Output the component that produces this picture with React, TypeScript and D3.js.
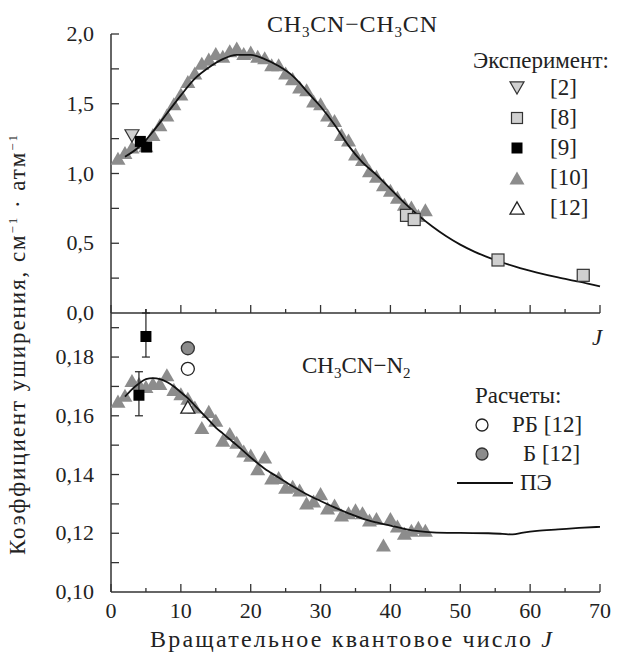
import React from "react";
import * as d3 from "d3";

// ---- data: CH3CN–CH3CN (top panel) ----
const topRef10J = [1,2,3,4,5,6,7,8,9,10,11,12,13,14,15,16,17,18,19,20,21,22,23,24,25,26,27,28,29,30,31,32,33,34,35,36,37,38,39,40,41,42,43,44,45];
const topRef10 = [1.11,1.15,1.19,1.22,1.2,1.28,1.35,1.42,1.5,1.57,1.66,1.72,1.79,1.82,1.86,1.84,1.88,1.9,1.86,1.87,1.84,1.83,1.78,1.78,1.72,1.68,1.62,1.6,1.52,1.5,1.42,1.38,1.28,1.24,1.14,1.1,1.02,0.98,0.92,0.88,0.83,0.78,0.76,0.7,0.74];
const topRef2 = [{ j: 3, v: 1.27 }];
const topRef8 = [{ j: 42.3, v: 0.7 }, { j: 43.4, v: 0.67 }, { j: 55.4, v: 0.38 }, { j: 67.6, v: 0.27 }];
const topRef9 = [{ j: 4.2, v: 1.23 }, { j: 5.1, v: 1.19 }];
const topCurveJ = [2,4,5,6,8,10,12,14,16,18,20,22,24,26,27,28,30,32,34,36,38,40,42,44,46,48,50,52,55,58,61,64,67,70];
const topCurve = [1.12,1.19,1.24,1.3,1.43,1.56,1.68,1.76,1.82,1.85,1.85,1.82,1.77,1.7,1.65,1.59,1.48,1.35,1.2,1.08,0.99,0.89,0.79,0.7,0.62,0.55,0.49,0.44,0.38,0.33,0.29,0.255,0.225,0.19];

// ---- data: CH3CN–N2 (bottom panel) ----
const botRef10J = [1,2,3,4,5,6,7,8,9,10,11,12,13,14,15,16,17,18,19,20,21,22,23,24,25,26,27,28,29,30,31,32,33,34,35,36,37,38,39,40,41,42,43,44,45];
const botRef10 = [0.165,0.167,0.172,0.171,0.17,0.171,0.171,0.174,0.169,0.1675,0.166,0.163,0.156,0.1615,0.1585,0.1517,0.154,0.151,0.148,0.1466,0.142,0.146,0.1388,0.139,0.1357,0.136,0.1347,0.1303,0.131,0.1335,0.1286,0.1296,0.1262,0.127,0.128,0.127,0.1245,0.125,0.116,0.125,0.1225,0.12,0.121,0.122,0.121];
const botRef9 = [{ j: 5, v: 0.187, lo: 0.18, hi: 0.195 }, { j: 4, v: 0.167, lo: 0.16, hi: 0.175 }];
const botRef12 = [{ j: 11, v: 0.163 }];
const botRB = [{ j: 11, v: 0.176 }];
const botB = [{ j: 11, v: 0.183 }];
const botCurveJ = [2,3,4,5,6,7,8,9,10,11,12,13,14,15,16,17,18,20,22,24,26,28,30,32,34,36,38,40,42,44,46,50,54,56,57.5,59,61,64,67,70];
const botCurve = [0.1665,0.169,0.171,0.1725,0.1728,0.1725,0.1715,0.17,0.168,0.166,0.1635,0.161,0.1585,0.156,0.154,0.152,0.15,0.1458,0.142,0.139,0.136,0.1333,0.131,0.1288,0.1268,0.125,0.1237,0.1226,0.1215,0.1207,0.1203,0.1201,0.12,0.1198,0.1196,0.1202,0.1208,0.1213,0.1218,0.1222];

// ---- ticks ----
const xTicks = [0,5,10,15,20,25,30,35,40,45,50,55,60,65,70];
const xLabels = [0,10,20,30,40,50,60,70];
const topTicks = [0.25,0.5,0.75,1,1.25,1.5,1.75,2];
const topLabels = [0,0.5,1,1.5,2];
const botTicks = [0.11,0.12,0.13,0.14,0.15,0.16,0.17,0.18,0.19];
const botLabels = [0.1,0.12,0.14,0.16,0.18];

const expLegend = ["[2]", "[8]", "[9]", "[10]", "[12]"];
const calcLegend = ["РБ [12]", "Б [12]", "ПЭ"];

const FONT = "'Liberation Serif', 'Times New Roman', serif";
const AXIS = "#333";
const TRI = "#8c8c8c";
const FS = 22;

const tri = (cx: number, cy: number, s: number, down = false) => {
  const h = s * 0.87;
  return down
    ? `M${cx - s / 2},${cy - h / 2}L${cx + s / 2},${cy - h / 2}L${cx},${cy + h / 2}Z`
    : `M${cx - s / 2},${cy + h / 2}L${cx + s / 2},${cy + h / 2}L${cx},${cy - h / 2}Z`;
};

const App = () => {
  const x = d3.scaleLinear().domain([0, 70]).range([111, 600]);
  const yT = d3.scaleLinear().domain([0, 2]).range([313, 34]);
  const yB = d3.scaleLinear().domain([0.1, 0.195]).range([592, 313]);

  const line = d3.line<[number, number]>().curve(d3.curveMonotoneX);
  const topPath = line(topCurveJ.map((j, i) => [x(j), yT(topCurve[i])]));
  const botPath = line(botCurveJ.map((j, i) => [x(j), yB(botCurve[i])]));

  const fmt = (v: number, d: number) => v.toFixed(d).replace(".", ",");

  return (
    <svg width={617} height={655} style={{ position: "absolute", left: 0, top: 0, background: "#fff" }}>
      <g fontFamily={FONT} fill="#222">
        {/* axes */}
        <line x1={x(0)} x2={x(0)} y1={yT(2)} y2={yB(0.1)} stroke={AXIS} strokeWidth={1.5} />
        <line x1={x(0)} x2={x(70)} y1={313} y2={313} stroke={AXIS} strokeWidth={1.5} />
        <line x1={x(0)} x2={x(70)} y1={592} y2={592} stroke={AXIS} strokeWidth={1.5} />
        {xTicks.map(t => (
          <g key={"xt" + t}>
            <line x1={x(t)} x2={x(t)} y1={313} y2={313 - (t % 10 === 0 ? 8 : 4)} stroke={AXIS} strokeWidth={1.3} />
            <line x1={x(t)} x2={x(t)} y1={592} y2={592 - (t % 10 === 0 ? 8 : 4)} stroke={AXIS} strokeWidth={1.3} />
          </g>
        ))}
        {topTicks.map(t => (
          <line key={"tt" + t} x1={x(0)} x2={x(0) + 8} y1={yT(t)} y2={yT(t)} stroke={AXIS} strokeWidth={1.3} />
        ))}
        {botTicks.map(t => (
          <line key={"bt" + t} x1={x(0)} x2={x(0) + 8} y1={yB(t)} y2={yB(t)} stroke={AXIS} strokeWidth={1.3} />
        ))}
        {xLabels.map(t => (
          <text key={"xl" + t} x={x(t)} y={618} textAnchor="middle" fontSize={FS}>{t}</text>
        ))}
        {topLabels.map(t => (
          <text key={"tl" + t} x={94} y={yT(t) + 7} textAnchor="end" fontSize={FS}>{fmt(t, 1)}</text>
        ))}
        {botLabels.map(t => (
          <text key={"bl" + t} x={94} y={yB(t) + 7} textAnchor="end" fontSize={FS}>{fmt(t, 2)}</text>
        ))}
        <text x={150} y={647} fontSize={24} textLength={402} lengthAdjust="spacing">
          Вращательное квантовое число <tspan fontStyle="italic">J</tspan>
        </text>
        <text x={597} y={345} textAnchor="middle" fontSize={23} fontStyle="italic">J</text>
        <text transform="translate(25,555) rotate(-90)" fontSize={23} textLength={420} lengthAdjust="spacing">
          Коэффициент уширения, см<tspan dy={-8} fontSize={13}>−1</tspan><tspan dy={8}> · атм</tspan><tspan dy={-8} fontSize={13}>−1</tspan>
        </text>

        {/* top panel */}
        <text x={267} y={32} fontSize={24} textLength={170} lengthAdjust="spacing">
          CH<tspan dy={5} fontSize={15}>3</tspan><tspan dy={-5}>CN−CH</tspan><tspan dy={5} fontSize={15}>3</tspan><tspan dy={-5}>CN</tspan>
        </text>
        {topRef10J.map((j, i) => (
          <path key={"t10" + i} d={tri(x(j), yT(topRef10[i]), 15)} fill={TRI} />
        ))}
        <path d={topPath ?? ""} fill="none" stroke="#111" strokeWidth={1.8} />
        {topRef2.map((d, i) => (
          <path key={"t2" + i} d={tri(x(d.j), yT(d.v), 14, true)} fill="#d0d0d0" stroke="#333" strokeWidth={1.2} />
        ))}
        {topRef9.map((d, i) => (
          <rect key={"t9" + i} x={x(d.j) - 5.5} y={yT(d.v) - 5.5} width={11} height={11} fill="#000" />
        ))}
        {topRef8.map((d, i) => (
          <rect key={"t8" + i} x={x(d.j) - 6} y={yT(d.v) - 6} width={12} height={12} fill="#d0d0d0" stroke="#333" strokeWidth={1.2} />
        ))}

        {/* top legend */}
        <text x={473} y={68} fontSize={23}>Эксперимент:</text>
        {expLegend.map((lab, i) => {
          const cy = 88 + i * 30;
          const cx = 517;
          let sym;
          if (i === 0) sym = <path d={tri(cx, cy, 14, true)} fill="#d0d0d0" stroke="#333" strokeWidth={1.2} />;
          else if (i === 1) sym = <rect x={cx - 5.5} y={cy - 5.5} width={11} height={11} fill="#d0d0d0" stroke="#333" strokeWidth={1.2} />;
          else if (i === 2) sym = <rect x={cx - 5.5} y={cy - 5.5} width={11} height={11} fill="#000" />;
          else if (i === 3) sym = <path d={tri(cx, cy, 15)} fill={TRI} />;
          else sym = <path d={tri(cx, cy, 14)} fill="#fff" stroke="#222" strokeWidth={1.3} />;
          return (
            <g key={"el" + i}>
              {sym}
              <text x={550} y={cy + 7} fontSize={23}>{lab}</text>
            </g>
          );
        })}

        {/* bottom panel */}
        <text x={302} y={373} fontSize={23}>
          CH<tspan dy={5} fontSize={15}>3</tspan><tspan dy={-5}>CN−N</tspan><tspan dy={5} fontSize={15}>2</tspan>
        </text>
        {botRef10J.map((j, i) => (
          <path key={"b10" + i} d={tri(x(j), yB(botRef10[i]), 15)} fill={TRI} />
        ))}
        <path d={botPath ?? ""} fill="none" stroke="#111" strokeWidth={1.8} />
        {botRef9.map((d, i) => (
          <g key={"b9" + i}>
            <line x1={x(d.j)} x2={x(d.j)} y1={yB(d.lo)} y2={yB(d.hi) - (i === 0 ? 4 : 0)} stroke="#222" strokeWidth={1.2} />
            <line x1={x(d.j) - 4} x2={x(d.j) + 4} y1={yB(d.lo)} y2={yB(d.lo)} stroke="#222" strokeWidth={1.2} />
            <line x1={x(d.j) - 4} x2={x(d.j) + 4} y1={yB(d.hi)} y2={yB(d.hi)} stroke="#222" strokeWidth={1.2} />
            <rect x={x(d.j) - 5.5} y={yB(d.v) - 5.5} width={11} height={11} fill="#000" />
          </g>
        ))}
        {botRef12.map((d, i) => (
          <path key={"b12" + i} d={tri(x(d.j), yB(d.v), 14)} fill="#fff" stroke="#222" strokeWidth={1.3} />
        ))}
        {botRB.map((d, i) => (
          <circle key={"rb" + i} cx={x(d.j)} cy={yB(d.v)} r={6.5} fill="#fff" stroke="#222" strokeWidth={1.3} />
        ))}
        {botB.map((d, i) => (
          <circle key={"b" + i} cx={x(d.j)} cy={yB(d.v)} r={6.5} fill="#8c8c8c" stroke="#333" strokeWidth={1.3} />
        ))}

        {/* bottom legend */}
        <text x={475} y={403} fontSize={23}>Расчеты:</text>
        {calcLegend.map((lab, i) => {
          const cy = 425 + i * 29;
          let sym;
          if (i === 0) sym = <circle cx={482} cy={cy} r={6} fill="#fff" stroke="#222" strokeWidth={1.3} />;
          else if (i === 1) sym = <circle cx={482} cy={cy} r={6} fill="#8c8c8c" stroke="#333" strokeWidth={1.3} />;
          else sym = <line x1={457} x2={513} y1={cy} y2={cy} stroke="#111" strokeWidth={1.8} />;
          const tx = [512, 523, 520][i];
          return (
            <g key={"cl" + i}>
              {sym}
              <text x={tx} y={cy + 7} fontSize={23}>{lab}</text>
            </g>
          );
        })}
      </g>
    </svg>
  );
};

export default App;
